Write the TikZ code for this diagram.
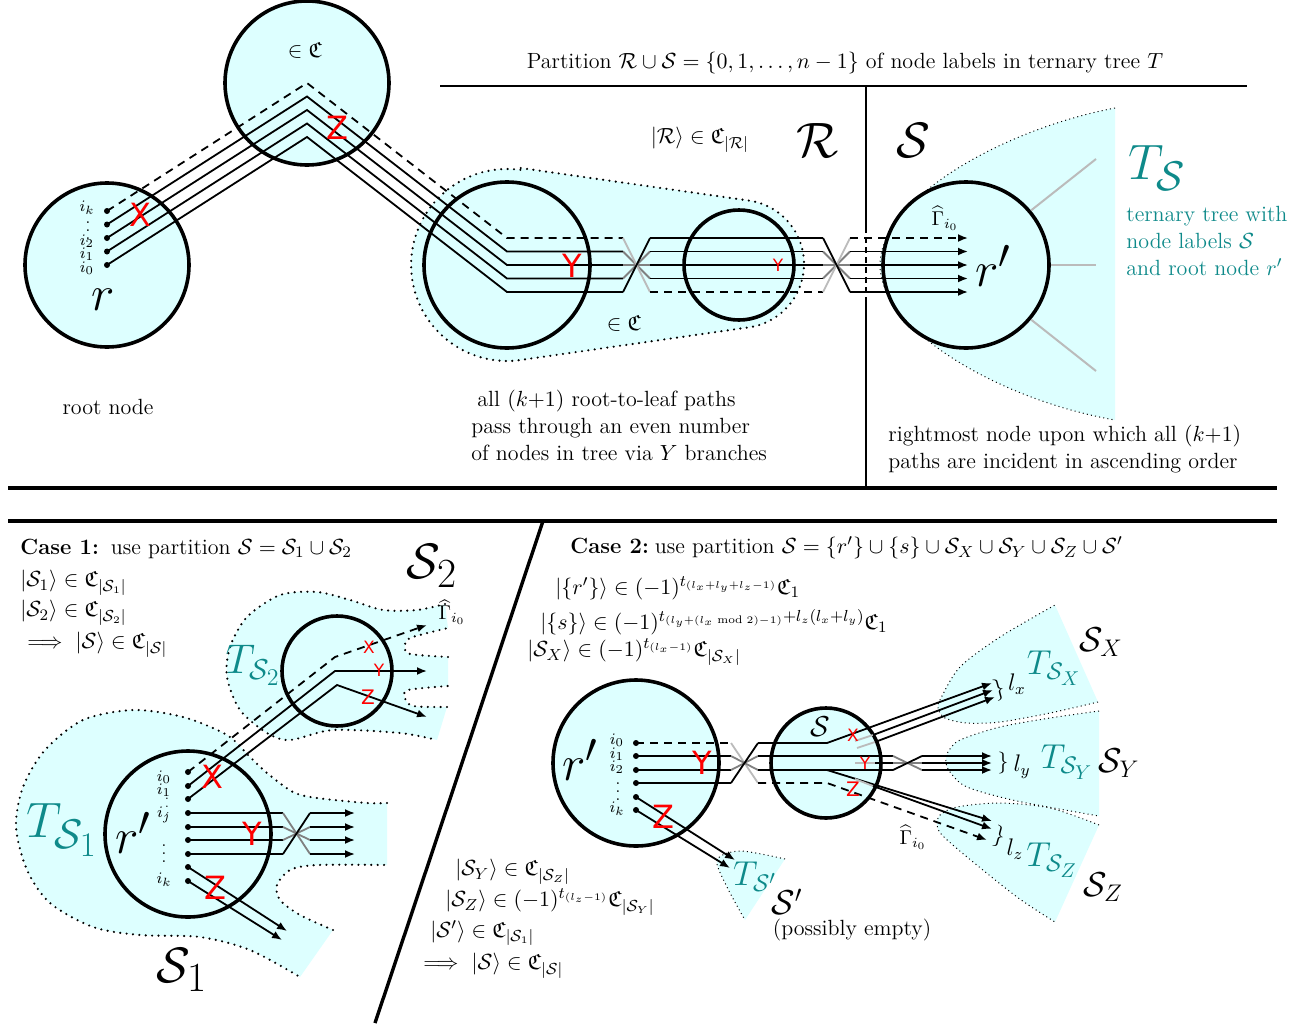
\documentclass[tikz,border=0pt]{standalone}
\usepackage{amsmath,amssymb}
\usepackage{fontspec}
\newfontfamily\sfred{DejaVu Sans}
\usetikzlibrary{arrows.meta}
\definecolor{cyanbg}{HTML}{DDFFFF}
\definecolor{tealc}{HTML}{0E8A8A}
\definecolor{glin}{HTML}{BBBBBB}
\begin{document}
\begin{tikzpicture}[x=0.5pt,y=-0.5pt,
 every node/.append style={font=\fontsize{11}{13.5}\selectfont},
 bigc/.style={circle,draw,line width=1.8pt,fill=cyanbg,inner sep=0pt},
 pth/.style={line width=0.9pt},
 dsh/.style={dash pattern=on 4pt off 3pt},
 arr/.style={-{Latex[length=5pt,width=4pt]}},
 pdot/.style={circle,fill=black,inner sep=0pt,minimum size=3pt},
 bdots/.style={line width=1.2pt,line cap=round,dash pattern=on 0pt off 3.2pt},
 fdots/.style={line width=0.5pt,dash pattern=on 0.5pt off 1.6pt},
 lbl/.style={inner sep=0pt,font=\fontsize{8}{8}\selectfont},
 redbig/.style={text=red,inner sep=0pt,font=\sfred\fontsize{16}{16}\selectfont},
 redsm/.style={text=red,inner sep=0pt,font=\sfred\fontsize{8.5}{8.5}\selectfont},
 txt/.style={inner sep=0pt,anchor=west},
 tealtxt/.style={text=tealc,inner sep=0pt},
 gline/.style={glin,line width=1pt},
]
\useasboundingbox (0,0) rectangle (1312,1023);
\fill[white] (0,0) rectangle (1312,1023);

% ---------------- fills ----------------
\fill[cyanbg] (1115,108) .. controls (1000,130) and (880,200) .. (880,265) .. controls (880,330) and (1000,400) .. (1115,420) -- cycle;
\draw[fdots] (1115,108) .. controls (1000,130) and (880,200) .. (880,265) .. controls (880,330) and (1000,400) .. (1115,420);

\fill[cyanbg] (520.7,168) -- (749.1,200.6) arc[start angle=-81.86,end angle=81.86,radius=64] -- (520.7,360) arc[start angle=81.86,end angle=278.14,radius=96] -- cycle;
\draw[bdots] (520.7,168) -- (749.1,200.6) arc[start angle=-81.86,end angle=81.86,radius=64] -- (520.7,360) arc[start angle=81.86,end angle=278.14,radius=96] -- cycle;

% S1 blob
\fill[cyanbg] plot[smooth] coordinates {(387,803) (367,803) (317,798) (293,792) (267,773) (250,757) (227,735) (183,717) (133,710) (83,720) (45,750) (23,787) (16,827) (27,870) (50,903) (93,927) (140,935) (200,937) (250,950) (300,977)} -- plot[smooth] coordinates {(333,930) (300,915) (280,900) (277,885) (290,870) (317,865) (387,865)} -- cycle;
\draw[bdots] plot[smooth] coordinates {(387,803) (367,803) (317,798) (293,792) (267,773) (250,757) (227,735) (183,717) (133,710) (83,720) (45,750) (23,787) (16,827) (27,870) (50,903) (93,927) (140,935) (200,937) (250,950) (300,977)};
\draw[bdots] plot[smooth] coordinates {(333,930) (300,915) (280,900) (277,885) (290,870) (317,865) (387,865)};
% S2 blob
\fill[cyanbg] plot[smooth] coordinates {(445,604) (417,610) (383,610) (350,600) (317,592) (280,595) (247,617) (230,647) (227,677) (240,710) (267,733) (290,740) (333,730) (400,733) (437,740)} -- plot[smooth] coordinates {(447,707) (413,706) (405,698) (408,690) (448,686)} -- plot[smooth] coordinates {(448,657) (410,654) (405,647) (410,638) (448,628)} -- cycle;
\draw[bdots] plot[smooth] coordinates {(445,604) (417,610) (383,610) (350,600) (317,592) (280,595) (247,617) (230,647) (227,677) (240,710) (267,733) (290,740) (333,730) (400,733) (437,740)};
\draw[bdots] plot[smooth] coordinates {(447,707) (413,706) (405,698) (408,690) (448,686)};
\draw[bdots] plot[smooth] coordinates {(448,657) (410,654) (405,647) (410,638) (448,628)};

% fans case 2
\fill[cyanbg] plot[smooth] coordinates {(1098,702) (1050,713) (1000,722) (967,723) (945,718) (938,708) (941,698) (960,667) (1000,637) (1055,605)} -- cycle;
\draw[fdots] plot[smooth] coordinates {(1098,702) (1050,713) (1000,722) (967,723) (945,718) (938,708) (941,698) (960,667) (1000,637) (1055,605)};
\fill[cyanbg] plot[smooth] coordinates {(1099,711) (1050,718) (1000,727) (960,740) (948,752) (946,762) (950,772) (967,787) (1017,801) (1099,816)} -- cycle;
\draw[fdots] plot[smooth] coordinates {(1099,711) (1050,718) (1000,727) (960,740) (948,752) (946,762) (950,772) (967,787) (1017,801) (1099,816)};
\fill[cyanbg] plot[smooth] coordinates {(1099,825) (1050,808) (1000,803) (957,807) (940,815) (937,825) (942,835) (967,857) (1017,897) (1055,922)} -- cycle;
\draw[fdots] plot[smooth] coordinates {(1099,825) (1050,808) (1000,803) (957,807) (940,815) (937,825) (942,835) (967,857) (1017,897) (1055,922)};
\fill[cyanbg] plot[smooth] coordinates {(785,859) (740,851) (717,860) (727,887) (745,920)} -- cycle;
\draw[fdots] plot[smooth] coordinates {(785,859) (740,851) (717,860) (727,887) (745,920)};

% ---------------- frame lines ----------------
\draw[line width=0.8pt] (440,86) -- (1247,86);
\draw[line width=0.8pt] (866,86) -- (866,227);
\draw[line width=0.8pt,dash pattern=on 3pt off 2pt] (866,227) -- (866,298);
\draw[line width=0.8pt] (866,298) -- (866,487);
\draw[line width=1.7pt] (8,488) -- (1277,488);
\draw[line width=1.7pt] (8,521) -- (1277,521);
\draw[line width=1.7pt] (543,521) -- (375,1023);

% ---------------- circles ----------------
\node[bigc,minimum size=82pt] (rr) at (107,265) {};
\node[bigc,minimum size=82pt] (tc) at (307,83) {};
\node[bigc,minimum size=83pt] (cl) at (507,265) {};
\node[bigc,minimum size=55pt] (cm) at (739,265) {};
\node[bigc,minimum size=83pt] (rp) at (966,265) {};
\node[bigc,minimum size=83pt] (r1) at (188,834) {};
\node[bigc,minimum size=55pt] (s2c) at (337,671) {};
\node[bigc,minimum size=83pt] (r2) at (636,763) {};
\node[bigc,minimum size=55pt] (sc) at (826,763) {};

\draw[gline] (rp.40) -- (1096,159);
\draw[gline] (rp.0) -- (1096,265);
\draw[gline] (rp.-40) -- (1096,371);

% ---------------- top paths ----------------
\foreach \j in {0,...,4} \node[pdot] (t\j) at (107,{265-13.5*\j}) {};
\foreach \j/\st/\cs in {1/solid/gray,2/solid/gray,3/solid/gray,4/dsh/glin,0/solid/black} {
  \draw[pth,\st] (t\j.center) -- (307,{137-13.5*\j}) -- (507,{292-13.5*\j}) -- (623,{292-13.5*\j});
  \draw[pth,\cs] (623,{292-13.5*\j}) -- (650,{238+13.5*\j});
  \draw[pth,\st] (650,{238+13.5*\j}) -- (823,{238+13.5*\j});
  \draw[pth,\cs] (823,{238+13.5*\j}) -- (850,{292-13.5*\j});
  \draw[pth,\st,arr] (850,{292-13.5*\j}) -- (968,{292-13.5*\j});
}
\node[lbl] (ti0) at (87,268) {$i_0$};
\node[lbl] (ti1) at (87,254) {$i_1$};
\node[lbl] (ti2) at (87,241) {$i_2$};
\node[lbl] (tiv) at (88,225) {$\vdots$};
\node[lbl] (tik) at (87,208) {$i_k$};

% ---------------- case 1 paths ----------------
\foreach \m/\y in {0/772,1/786,2/799,3/813,4/827,5/840,6/854,7/867,8/881} \node[pdot] (c\m) at (188,\y) {};
\draw[pth,dsh,arr] (c0.center) -- (335,657) -- (427,625);
\draw[pth,arr] (c1.center) -- (335,671) -- (427,671);
\draw[pth,arr] (c2.center) -- (337,685) -- (427,717);
\foreach \m/\ya/\yb/\cs in {3/813/854/gray,4/827/840/gray,5/840/827/gray,6/854/813/black} {
  \draw[pth] (c\m.center) -- (283,\ya);
  \draw[pth,\cs] (283,\ya) -- (310,\yb);
  \draw[pth,arr] (310,\yb) -- (355,\yb);
}
\draw[pth,arr] (c7.center) -- (287,931);
\draw[pth,arr] (c8.center) -- (282,940);
\node[lbl] (ci0) at (164,777) {$i_0$};
\node[lbl] (ci1) at (164,790) {$i_1$};
\node[lbl,font=\fontsize{6}{6}\selectfont] (civ1) at (167,801) {$\vdots$};
\node[lbl] (cij) at (164,815) {$i_j$};
\node[lbl] (civ2) at (164,848) {$\vdots$};
\node[lbl] (cik) at (164,880) {$i_k$};

% ---------------- case 2 paths ----------------
\foreach \m/\y in {0/743,1/756,2/770,3/783,4/797,5/810} \node[pdot] (d\m) at (636,\y) {};
\draw[pth,dsh] (d0.center) -- (731,743);
\draw[pth,glin] (731,743) -- (758,783);
\draw[pth,dsh,arr] (758,783) -- (827,783) -- (987,840);
\draw[pth] (d1.center) -- (731,756); \draw[pth,gray] (731,756) -- (758,770);
\draw[pth] (d2.center) -- (731,770); \draw[pth,gray] (731,770) -- (758,756);
\draw[pth] (d3.center) -- (731,783); \draw[pth] (731,783) -- (758,743);
\draw[pth,arr] (758,743) -- (827,743) -- (992,683);
\draw[pth] (758,756) -- (893,756);
\draw[pth] (758,770) -- (893,770);
\draw[pth,arr] (827,770) -- (992,821);
\draw[pth,glin] (855,741) -- (873,735); \draw[pth,arr] (873,735) -- (993,690);
\draw[pth,glin] (857,748) -- (875,742); \draw[pth,arr] (875,742) -- (995,697);
\draw[pth,glin] (855,763) -- (875,763); \draw[pth] (875,763) -- (893,763);
\draw[pth,glin] (855,779) -- (873,786); \draw[pth,arr] (873,786) -- (992,829);
\draw[pth,gray] (893,756) -- (922,770);
\draw[pth,gray] (893,763) -- (922,763);
\draw[pth] (893,770) -- (922,756);
\foreach \y in {756,763,770} \draw[pth,arr] (922,\y) -- (992,\y);
\draw[pth,arr] (d4.center) -- (735,860);
\draw[pth,arr] (d5.center) -- (730,868);
\node[lbl] (di0) at (617,740) {$i_0$};
\node[lbl] (di1) at (617,754) {$i_1$};
\node[lbl] (di2) at (617,767) {$i_2$};
\node[lbl] (div) at (618,786) {$\vdots$};
\node[lbl] (dik) at (617,809) {$i_k$};

% ---------------- red letters ----------------
\node[redbig] (x1) at (140,215) {X};
\node[redbig] (z1) at (337,128) {Z};
\node[redbig] (y1) at (572,266) {Y};
\node[redsm] (y2) at (778,265) {Y};
\node[redbig] (x2) at (212,777) {X};
\node[redbig] (y3) at (252,834) {Y};
\node[redbig] (z2) at (215,888) {Z};
\node[redsm] (x3) at (369,647) {X};
\node[redsm] (y4) at (379,670) {Y};
\node[redsm,font=\sfred\fontsize{10}{10}\selectfont] (z3) at (368,697) {Z};
\node[redbig] (y5) at (702,763) {Y};
\node[redbig] (z4) at (663,817) {Z};
\node[redsm] (x4) at (853,735) {X};
\node[redsm] (y6) at (865,763) {Y};
\node[redsm,font=\sfred\fontsize{10}{10}\selectfont] (z5) at (853,789) {Z};

% ---------------- top texts ----------------
\node (part) at (845,63) {Partition $\mathcal R\cup\mathcal S=\{0,1,\dots,n-1\}$ of node labels in ternary tree $T$};
\node (inC1) at (305,50) {$\in\mathfrak C$};
\node (inC2) at (624,323) {$\in\mathfrak C$};
\node (Rket) at (700,140) {$|\mathcal R\rangle\in\mathfrak C_{|\mathcal R|}$};
\node (bigR) at (818,140) {\Huge$\mathcal R$};
\node (bigS) at (913,140) {\Huge$\mathcal S$};
\node (rlab) at (103,300) {\Huge$r$};
\node (rplab) at (993,266) {\Huge$r'$};
\node[inner sep=0pt,font=\fontsize{10}{10}\selectfont] (gam1) at (945,218) {$\widehat{\Gamma}_{i_0}$};
\node (rootn) at (108,407) {root node};
\node[txt,align=left] (allk) at (471,425) {\hspace{3pt}all $(k{+}1)$ root-to-leaf paths\\pass through an even number\\of nodes in tree via $Y$ branches};
\node[txt,align=left] (rightm) at (888,449) {rightmost node upon which all $(k{+}1)$\\paths are incident in ascending order};
\node[tealtxt] (TS) at (1157,168) {\Huge$T_{\mathcal S}$};
\node[tealtxt,anchor=west,align=left] (tern) at (1126,241) {ternary tree with\\node labels $\mathcal S$\\and root node $r'$};

% ---------------- case 1 texts ----------------
\node[txt] (case1) at (20,549) {\textbf{Case 1:}\hspace{6pt}use partition $\mathcal S=\mathcal S_1\cup\mathcal S_2$};
\node[txt] (c1a) at (20,583) {$|\mathcal S_1\rangle\in\mathfrak C_{|\mathcal S_1|}$};
\node[txt] (c1b) at (20,613) {$|\mathcal S_2\rangle\in\mathfrak C_{|\mathcal S_2|}$};
\node[txt] (c1c) at (27,645) {$\Longrightarrow\ |\mathcal S\rangle\in\mathfrak C_{|\mathcal S|}$};
\node (bigS2) at (432,566) {\Huge$\mathcal S_2$};
\node (bigS1) at (182,970) {\Huge$\mathcal S_1$};
\node[tealtxt] (TS1) at (62,830) {\Huge$T_{\mathcal S_1}$};
\node[tealtxt] (TS2) at (253,665) {\huge$T_{\mathcal S_2}$};
\node (rp1) at (133,833) {\Huge$r'$};
\node[inner sep=0pt,font=\fontsize{10}{10}\selectfont] (gam2) at (452,612) {$\widehat{\Gamma}_{i_0}$};

% ---------------- case 2 texts ----------------
\node[txt] (case2) at (570,548) {\textbf{Case 2:}\hspace{3pt}use partition $\mathcal S=\{r'\}\cup\{s\}\cup\mathcal S_X\cup\mathcal S_Y\cup\mathcal S_Z\cup\mathcal S'$};
\node[txt] (c2a) at (555,588) {$|\{r'\}\rangle\in(-1)^{t_{(l_x+l_y+l_z-1)}}\mathfrak C_1$};
\node[txt] (c2b) at (540,622) {$|\{s\}\rangle\in(-1)^{t_{(l_y+(l_x \bmod 2)-1)}+l_z(l_x+l_y)}\mathfrak C_1$};
\node[txt] (c2c) at (527,652) {$|\mathcal S_X\rangle\in(-1)^{t_{(l_x-1)}}\mathfrak C_{|\mathcal S_X|}$};
\node[txt] (c2d) at (455,872) {$|\mathcal S_Y\rangle\in\mathfrak C_{|\mathcal S_Z|}$};
\node[txt] (c2e) at (445,902) {$|\mathcal S_Z\rangle\in(-1)^{t_{(l_z-1)}}\mathfrak C_{|\mathcal S_Y|}$};
\node[txt] (c2f) at (430,933) {$|\mathcal S'\rangle\in\mathfrak C_{|\mathcal S_1|}$};
\node[txt] (c2g) at (423,966) {$\Longrightarrow\ |\mathcal S\rangle\in\mathfrak C_{|\mathcal S|}$};
\node (rp2) at (580,760) {\Huge$r'$};
\node (slab) at (820,727) {\Large$\mathcal S$};
\node[inner sep=0pt,font=\fontsize{10}{10}\selectfont] (gam3) at (913,837) {$\widehat{\Gamma}_{i_0}$};
\node[rotate=15,inner sep=0pt] (bx) at (999,690) {$\}$};
\node[inner sep=0pt] (by) at (1003,763) {$\}$};
\node[rotate=-15,inner sep=0pt] (bz) at (999,837) {$\}$};
\node (lx) at (1017,684) {\large$l_x$};
\node (ly) at (1022,767) {\large$l_y$};
\node (lz) at (1015,849) {\large$l_z$};
\node[tealtxt] (TSX) at (1054,668) {\LARGE$T_{\mathcal S_X}$};
\node[tealtxt] (TSY) at (1067,762) {\LARGE$T_{\mathcal S_Y}$};
\node[tealtxt] (TSZ) at (1052,860) {\LARGE$T_{\mathcal S_Z}$};
\node[tealtxt] (TSp) at (755,877) {\LARGE$T_{\mathcal S'}$};
\node (SX) at (1101,642) {\LARGE$\mathcal S_X$};
\node (SY) at (1119,763) {\LARGE$\mathcal S_Y$};
\node (SZ) at (1103,887) {\LARGE$\mathcal S_Z$};
\node (Sp) at (787,902) {\LARGE$\mathcal S'$};
\node (poss) at (852,930) {(possibly empty)};
\end{tikzpicture}
\end{document}
